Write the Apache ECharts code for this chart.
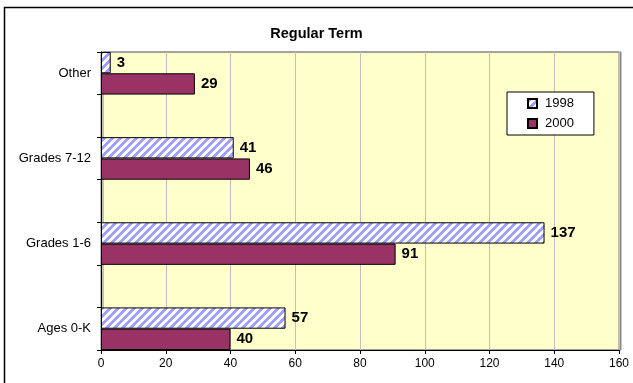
<!DOCTYPE html>
<html>
<head>
<meta charset="utf-8">
<script src="https://cdn.jsdelivr.net/npm/echarts@6/dist/echarts.min.js"></script>
<style>
  html, body { margin: 0; padding: 0; background: #fff; }
  #chart { width: 633px; height: 383px; }
</style>
</head>
<body>
<div id="chart"></div>
<script>
// data, bottom to top
var categories = ['Ages 0-K', 'Grades 1-6', 'Grades 7-12', 'Other'];
var values1998 = [57, 137, 41, 3];
var values2000 = [40, 91, 46, 29];
var xTicks = [0, 20, 40, 60, 80, 100, 120, 140, 160];

// blank slot between each category, like the original sheet
var axisCats = [], data1998 = [], data2000 = [];
for (var i = 0; i < categories.length; i++) {
	if (i > 0) { axisCats.push(''); data1998.push('-'); data2000.push('-'); }
	axisCats.push(categories[i]);
	data1998.push(values1998[i]);
	data2000.push(values2000[i]);
}

// hatch tile "/" blue on white
function hatch() {
	var c = document.createElement('canvas');
	c.width = 8; c.height = 8;
	var ctx = c.getContext('2d');
	var img = ctx.createImageData(8, 8);
	for (var y = 0; y < 8; y++) {
		for (var x = 0; x < 8; x++) {
			var k = (y * 8 + x) * 4;
			var on = ((x + y) % 8) < 4;
			img.data[k] = on ? 0xa0 : 255;
			img.data[k + 1] = on ? 0xa0 : 255;
			img.data[k + 2] = 255;
			img.data[k + 3] = 255;
		}
	}
	ctx.putImageData(img, 0, 0);
	return c;
}

var font = '"Liberation Sans", Arial, sans-serif';
var myChart = echarts.init(document.getElementById('chart'));

var option = {
	animation: false,
	title: {
		text: 'Regular Term',
		left: 'center',
		top: 21,
		textStyle: { fontFamily: font, fontSize: 14.5, fontWeight: 'bold', color: '#000' }
	},
	graphic: [{
		type: 'rect',
		shape: { x: 4.5, y: 7.5, width: 700, height: 500 },
		style: { fill: null, stroke: '#000', lineWidth: 1.5 },
		silent: true
	}],
	legend: {
		orient: 'vertical',
		left: 507,
		top: 92,
		data: ['1998', '2000'],
		icon: 'rect',
		backgroundColor: '#fff',
		borderColor: '#000',
		borderWidth: 1,
		padding: [5, 20, 5, 20],
		itemWidth: 9,
		itemHeight: 9,
		itemGap: 7,
		textStyle: { fontFamily: font, fontSize: 13, color: '#000', padding: [0, 0, 0, 3] }
	},
	grid: {
		left: 101,
		right: 14,
		top: 52,
		bottom: 33,
		show: true,
		backgroundColor: '#FFFFCC',
		borderColor: '#808080',
		borderWidth: 1,
		shadowColor: '#888',
		shadowOffsetX: 2,
		shadowOffsetY: 0,
		shadowBlur: 0
	},
	xAxis: {
		type: 'value',
		min: xTicks[0],
		max: xTicks[xTicks.length - 1],
		interval: 20,
		axisLine: { show: true, lineStyle: { color: '#000' } },
		axisTick: { show: true, length: 4, lineStyle: { color: '#000' } },
		splitLine: { show: true, lineStyle: { color: '#c0c0c0' } },
		axisLabel: { fontFamily: font, fontSize: 12, color: '#000', margin: 8 }
	},
	yAxis: {
		type: 'category',
		data: axisCats,
		axisLine: { show: true, lineStyle: { color: '#000' } },
		axisTick: { show: true, interval: 0, length: 4, lineStyle: { color: '#000' } },
		axisLabel: { interval: 0, fontFamily: font, fontSize: 13, color: '#000', margin: 10 }
	},
	series: [
		{
			name: '1998',
			type: 'bar',
			data: data1998,
			barGap: '0%',
			barCategoryGap: '0%',
			itemStyle: { color: { image: hatch(), repeat: 'repeat' }, borderColor: '#000', borderWidth: 1 },
			label: { show: true, position: 'right', distance: 6, fontFamily: font, fontSize: 15, fontWeight: 'bold', color: '#000' }
		},
		{
			name: '2000',
			type: 'bar',
			data: data2000,
			barGap: '0%',
			barCategoryGap: '0%',
			itemStyle: { color: '#993366', borderColor: '#000', borderWidth: 1 },
			label: { show: true, position: 'right', distance: 6, fontFamily: font, fontSize: 15, fontWeight: 'bold', color: '#000' }
		}
	]
};

myChart.setOption(option);
</script>
</body>
</html>
